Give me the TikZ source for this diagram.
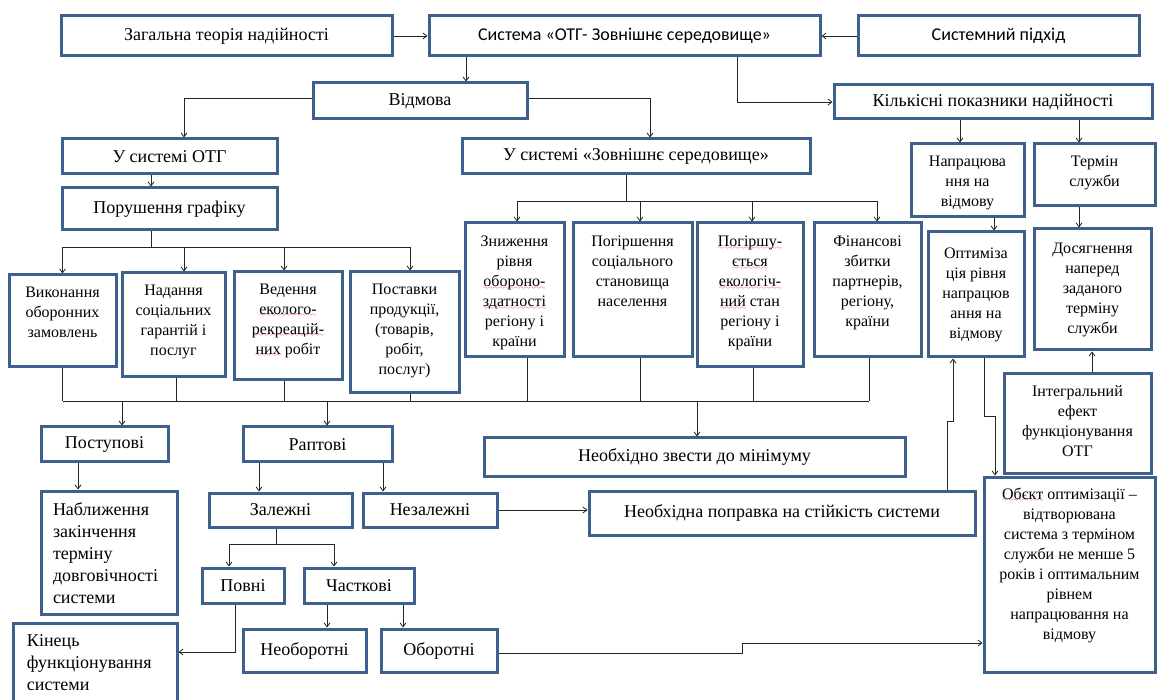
\documentclass[tikz,border=0pt]{standalone}
\usepackage{fontspec}
\setmainfont{Liberation Serif}
\newfontfamily\carlito{Carlito}
\usetikzlibrary{arrows.meta}
\definecolor{boxblue}{RGB}{62,96,140}
\font\sixly=lasy6
% red wavy underline (spell check marks)
\newcommand\sqw[1]{\leavevmode\setbox0\hbox{#1}\rlap{\lower2.5pt\hbox{\color{red}\hbox to\wd0{\xleaders\hbox{\sixly\char58}\hfil}}}\box0\relax}
% text block: width, height, lines (top aligned)
\newcommand\tb[3]{\parbox[c][#2][t]{#1}{\centering #3}}
\newcommand\tbl[3]{\parbox[c][#2][t]{#1}{\raggedright #3}}

\tikzset{
  bx/.style={draw=boxblue, line width=3pt, fill=white, inner sep=0pt, align=center,
    font=\fontsize{18}{22}\selectfont},
  sm/.style={font=\fontsize{16}{20}\selectfont},
  sf/.style={font=\carlito\fontsize{18}{22}\selectfont},
  cn/.style={draw=black!85, line width=0.8pt},
}

\begin{document}
\begin{tikzpicture}[x=1pt, y=-1pt, >={Straight Barb[length=4pt,width=6pt]}]
\useasboundingbox (0,0) rectangle (1157,700);
\clip (0,0) rectangle (1157,700);

% top row
\node[bx, minimum width=331pt, minimum height=40pt] (gen) at (226.5,36) {Загальна теорія надійності};
\node[bx, sf, minimum width=391pt, minimum height=40pt] (sys) at (624.5,36) {Система «ОТГ- Зовнішнє середовище»};
\node[bx, sf, minimum width=281pt, minimum height=40pt] (sapp) at (998.5,36) {Системний підхід};

\node[bx, minimum width=214pt, minimum height=36pt] (vid) at (420,101) {Відмова};
\node[bx, minimum width=318pt, minimum height=34pt] (kil) at (993,102) {Кількісні показники надійності};

\node[bx, minimum width=215pt, minimum height=35pt] (otg) at (169.5,156.5) {У системі ОТГ};
\node[bx, minimum width=348pt, minimum height=35pt] (zov) at (636,156.5) {У системі «Зовнішнє середовище»};
\node[bx, minimum width=215pt, minimum height=42pt] (por) at (169.5,209) {Порушення графіку};

% right column
\node[bx, sm, minimum width=113pt, minimum height=73pt] (nap) at (967.5,180.5) {\tb{106pt}{49pt}{Напрацюва\\ння на\\відмову}};
\node[bx, sm, minimum width=121pt, minimum height=62pt] (ter) at (1094.5,175) {\tb{110pt}{38pt}{Термін\\служби}};
\node[bx, sm, minimum width=96pt, minimum height=125pt] (opt) at (976,294.5) {\tb{90pt}{93pt}{Оптимізa\\ція рівня\\напрацюв\\ання на\\відмову}};
\node[bx, sm, minimum width=117pt, minimum height=121pt] (dos) at (1092.5,289.5) {\tb{110pt}{93pt}{Досягнення\\наперед\\заданого\\терміну\\служби}};
\node[bx, sm, minimum width=147pt, minimum height=99pt] (int) at (1077.5,423.5) {\tb{140pt}{75pt}{Інтегральний\\ефект\\функціонування\\ОТГ}};
\node[bx, sm, minimum width=171pt, minimum height=195pt] (obj) at (1069.5,574.5) {\tb{164pt}{173pt}{\sqw{Обєкт} оптимізації –\\відтворювана\\система з терміном\\служби не менше 5\\років і оптимальним\\рівнем\\напрацювання на\\відмову}};

% second level boxes
\node[bx, sm, minimum width=107pt, minimum height=92pt] (vyk) at (62.5,321) {\tb{100pt}{68pt}{Виконання\\оборонних\\замовлень}};
\node[bx, sm, minimum width=103pt, minimum height=104pt] (nad) at (173.5,325) {\tb{96pt}{80pt}{Надання\\соціальних\\гарантій і\\послуг}};
\node[bx, sm, minimum width=108pt, minimum height=108pt] (ved) at (288,326) {\tb{100pt}{84pt}{Ведення\\\sqw{еколого-}\\\sqw{рекреацій-}\\\sqw{них} робіт}};
\node[bx, sm, minimum width=109pt, minimum height=121pt] (pos) at (404.5,332.5) {\tb{100pt}{97pt}{Поставки\\продукції,\\(товарів,\\робіт,\\послуг)}};
\node[bx, sm, minimum width=99pt, minimum height=134pt] (zny) at (514.5,290) {\tb{94pt}{108pt}{Зниження\\рівня\\\sqw{обороно-}\\\sqw{здатності}\\регіону і\\країни}};
\node[bx, sm, minimum width=119pt, minimum height=134pt] (pog) at (632.5,290) {\tb{110pt}{108pt}{Погіршення\\соціального\\становища\\населення}};
\node[bx, sm, minimum width=106pt, minimum height=144pt] (pgs) at (750,295) {\tb{100pt}{118pt}{\sqw{Погіршу-}\\\sqw{ється}\\\sqw{екологіч-}\\\sqw{ний} стан\\регіону і\\країни}};
\node[bx, sm, minimum width=107pt, minimum height=134pt] (fin) at (867.5,290) {\tb{100pt}{108pt}{Фінансові\\збитки\\партнерів,\\регіону,\\країни}};

% lower part
\coordinate (bus) at (0,401);
\node[bx, minimum width=127pt, minimum height=35pt] (post) at (104.5,444.5) {Поступові};
\node[bx, minimum width=149pt, minimum height=35pt] (rapt) at (317.5,444.5) {Раптові};
\node[bx, minimum width=421pt, minimum height=38pt] (minim) at (694.5,457) {Необхідно звести до мінімуму};
\node[bx, minimum width=136pt, minimum height=123pt] (nabl) at (109,552.5) {\tbl{112pt}{99pt}{Наближення\\закінчення\\терміну\\довговічності\\системи}};
\node[bx, minimum width=143pt, minimum height=34pt] (zal) at (280.5,510) {Залежні};
\node[bx, minimum width=134pt, minimum height=34pt] (nez) at (430,510) {Незалежні};
\node[bx, minimum width=386pt, minimum height=44pt] (popr) at (782,513) {Необхідна поправка на стійкість системи};
\node[bx, minimum width=82pt, minimum height=35pt] (povn) at (243,585.5) {Повні};
\node[bx, minimum width=110pt, minimum height=35pt] (chast) at (359,585.5) {Часткові};
\node[bx, minimum width=164pt, minimum height=95pt] (kin) at (95,670.5) {\tbl{136pt}{71pt}{Кінець\\функціонування\\системи}};
\node[bx, minimum width=123pt, minimum height=43pt] (neob) at (304.5,650.5) {Необоротні};
\node[bx, minimum width=116pt, minimum height=43pt] (obor) at (439,650.5) {Оборотні};

% connectors
\draw[cn,->] (gen) -- (sys);
\draw[cn,->] (sapp) -- (sys);
\draw[cn,->] ([xshift=-158.5pt]sys.south) -- ([xshift=46pt]vid.north);
\draw[cn,->] ([xshift=112.5pt]sys.south) |- (kil.west);
\draw[cn,->] ([yshift=3pt]vid.west) -| ([xshift=14.5pt]otg.north);
\draw[cn,->] ([yshift=3pt]vid.east) -| ([xshift=14pt]zov.north);
\draw[cn,->] ([xshift=-18.5pt]otg.south) -- ([xshift=-18.5pt]por.north);
\foreach \n/\s in {vyk/0,nad/10.5,ved/-4,pos/5.5}
  \draw[cn,->] ([xshift=-18.5pt]por.south) -- ++(0,16) -| ([xshift=\s pt]\n.north);
\foreach \n/\s in {zny/2.5,pog/7.5,pgs/2,fin/9.5}
  \draw[cn,->] ([xshift=-10pt]zov.south) -- ++(0,26) -| ([xshift=\s pt]\n.north);
\draw[cn,->] ([xshift=-33pt]kil.south) -- ([xshift=-7.5pt]nap.north);
\draw[cn,->] ([xshift=86pt]kil.south) -- ([xshift=-15.5pt]ter.north);
\draw[cn,->] ([xshift=26.5pt]nap.south) -- ([xshift=18pt]opt.north);
\draw[cn,->] ([xshift=-15.5pt]ter.south) -- ([xshift=-13.5pt]dos.north);
\draw[cn,->] ([xshift=14.5pt]int.north) -- ([xshift=-0.5pt]dos.south);

\foreach \n/\s in {vyk/0,nad/2.5,ved/-4,pos/5.5,zny/12.5,pog/7.5,pgs/3,fin/1.5}
  \draw[cn] ([xshift=\s pt]\n.south) -- ([xshift=\s pt]\n.south |- bus);
\draw[cn] (vyk.south |- bus) -- ([xshift=1.5pt]fin.south |- bus);
\foreach \n/\s in {post/17.5,rapt/9.5,minim/2.5}
  \draw[cn,->] ([xshift=\s pt]\n.north |- bus) -- ([xshift=\s pt]\n.north);

\draw[cn,->] ([xshift=-26.5pt]post.south) -- ([xshift=-31pt]nabl.north);
\draw[cn,->] ([xshift=-58.5pt]rapt.south) -- ([xshift=-21.5pt]zal.north);
\draw[cn,->] ([xshift=65.5pt]rapt.south) -- ([xshift=-47pt]nez.north);
\draw[cn,->] (nez.east) -- (nez.east -| popr.west);
\foreach \n/\s in {povn/-14,chast/-25}
  \draw[cn,->] ([xshift=-4.5pt]zal.south) -- ++(0,16) -| ([xshift=\s pt]\n.north);
\draw[cn,->] ([xshift=-8pt]povn.south) |- ([yshift=18.5pt]kin.east);
\draw[cn,->] ([xshift=-32pt]chast.south) -- ([xshift=22.5pt]neob.north);
\draw[cn,->] ([xshift=44pt]chast.south) -- ([xshift=-36pt]obor.north);
\draw[cn,->] ([yshift=-2.5pt]obor.east) -- ++(244,0) |- ([yshift=-68.5pt]obj.west);
\draw[cn,->] ([xshift=165pt]popr.north) -- ++(0,-68) -| ([xshift=-23pt]opt.south);
\draw[cn,->] ([xshift=8pt]opt.south) -- ++(0,58) -| ([xshift=-74.5pt]obj.north);

\end{tikzpicture}
\end{document}
